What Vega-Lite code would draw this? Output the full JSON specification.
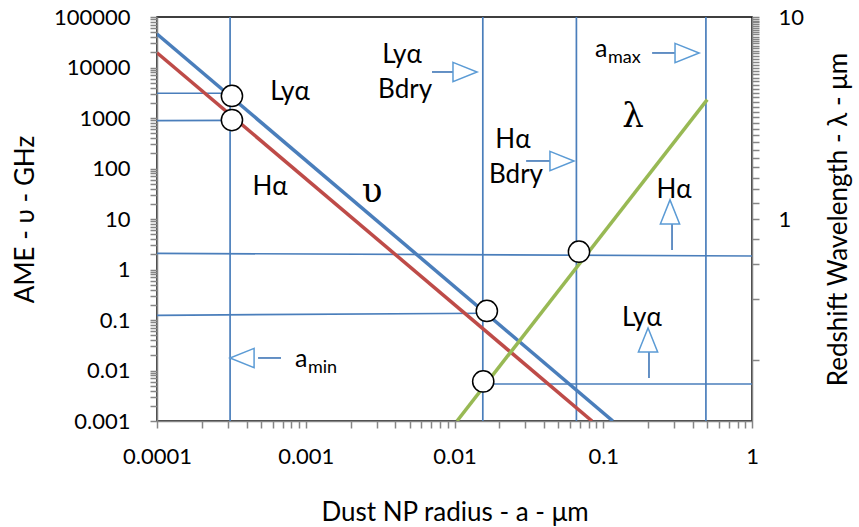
{
  "$schema": "https://vega.github.io/schema/vega-lite/v6.json",
  "width": 595,
  "height": 404,
  "autosize": {"type": "none"},
  "padding": {"left": 157, "top": 17, "right": 107, "bottom": 106},
  "background": "white",
  "config": {
    "font": "Lato, Open Sans, sans-serif",
    "view": {"stroke": "black", "strokeWidth": 1.5},
    "axis": {
      "grid": false,
      "domainColor": "#868686",
      "domainWidth": 1.5,
      "tickColor": "#868686",
      "tickWidth": 1.5,
      "tickSize": 7,
      "labelFontSize": 22,
      "labelColor": "black",
      "titleFontSize": 26,
      "titleFontWeight": "normal",
      "titleColor": "black"
    }
  },
  "datasets": {
    "ame": [
      {"series": "Lyα", "a": 0.0001, "v": 46000},
      {"series": "Lyα", "a": 0.116, "v": 0.001},
      {"series": "Hα", "a": 0.0001, "v": 19600},
      {"series": "Hα", "a": 0.084, "v": 0.001}
    ],
    "refs": [
      {"id": "v1", "a": 0.00031, "v": 0.001}, {"id": "v1", "a": 0.00031, "v": 100000},
      {"id": "v2", "a": 0.0155, "v": 0.001}, {"id": "v2", "a": 0.0155, "v": 100000},
      {"id": "v3", "a": 0.066, "v": 0.001}, {"id": "v3", "a": 0.066, "v": 100000},
      {"id": "v4", "a": 0.49, "v": 0.001}, {"id": "v4", "a": 0.49, "v": 100000},
      {"id": "h1", "a": 0.0001, "v": 3090}, {"id": "h1", "a": 0.000319, "v": 3090},
      {"id": "h2", "a": 0.0001, "v": 890}, {"id": "h2", "a": 0.000319, "v": 900},
      {"id": "h3", "a": 0.0001, "v": 2.09}, {"id": "h3", "a": 1, "v": 1.85},
      {"id": "h4", "a": 0.0001, "v": 0.124}, {"id": "h4", "a": 0.0165, "v": 0.136},
      {"id": "h5", "a": 0.0156, "v": 0.0054}, {"id": "h5", "a": 1, "v": 0.0054}
    ],
    "shafts": [
      {"a1": 0.00706, "a2": 0.00977, "v1": 8150, "v2": 8150},
      {"a1": 0.0303, "a2": 0.0439, "v1": 141, "v2": 141},
      {"a1": 0.213, "a2": 0.303, "v1": 19400, "v2": 19400},
      {"a1": 0.000478, "a2": 0.000682, "v1": 0.0177, "v2": 0.0177},
      {"a1": 0.29, "a2": 0.29, "v1": 7.96, "v2": 2.43},
      {"a1": 0.203, "a2": 0.203, "v1": 0.0232, "v2": 0.0071}
    ],
    "heads": [
      {"dir": "right", "a": 0.01177, "v": 8150},
      {"dir": "right", "a": 0.0528, "v": 141},
      {"dir": "right", "a": 0.366, "v": 19400},
      {"dir": "left", "a": 0.000373, "v": 0.0177},
      {"dir": "up", "a": 0.281, "v": 13.8},
      {"dir": "up", "a": 0.2, "v": 0.0402}
    ],
    "dots": [
      {"a": 0.000319, "v": 2730},
      {"a": 0.000319, "v": 910},
      {"a": 0.0165, "v": 0.151}
    ],
    "labels": [
      {"t": "Lyα", "a": 0.000784, "v": 2270},
      {"t": "Hα", "a": 0.000575, "v": 29.9},
      {"t": "Lyα", "a": 0.00444, "v": 12300},
      {"t": "Bdry", "a": 0.00465, "v": 2490},
      {"t": "Hα", "a": 0.0247, "v": 255},
      {"t": "Bdry", "a": 0.0259, "v": 51.6},
      {"t": "Hα", "a": 0.299, "v": 26},
      {"t": "Lyα", "a": 0.182, "v": 0.076}
    ],
    "greek": [
      {"t": "υ", "a": 0.00279, "v": 21.7},
      {"t": "λ", "a": 0.1585, "v": 664}
    ],
    "alabels": [
      {"t": "a", "a": 0.088, "v": 16100},
      {"t": "a", "a": 0.000847, "v": 0.0117}
    ],
    "subs": [
      {"t": "max", "a": 0.1077, "v": 12300},
      {"t": "min", "a": 0.001035, "v": 0.0089}
    ],
    "lam": [
      {"a": 0.0104, "lam": 0.1},
      {"a": 0.5, "lam": 3.9}
    ],
    "lamdots": [
      {"a": 0.0687, "lam": 0.689},
      {"a": 0.0156, "lam": 0.157}
    ]
  },
  "layer": [
    {
      "layer": [
        {
          "data": {"name": "refs"},
          "mark": {"type": "line", "color": "#4A7EBB", "strokeWidth": 1.7, "clip": true},
          "encoding": {
            "x": {"field": "a", "type": "quantitative", "scale": {"type": "log", "domain": [0.0001, 1]},
              "axis": {"title": "Dust NP radius  - a - μm", "tickCount": 60, "labelFlush": false, "labelOverlap": false, "labelPadding": 18, "titlePadding": 32,
                "labelExpr": "abs(log(datum.value)/LN10 - round(log(datum.value)/LN10)) < 0.001 ? '' + datum.value : ''"}},
            "y": {"field": "v", "type": "quantitative", "scale": {"type": "log", "domain": [0.001, 100000]},
              "axis": {"orient": "left", "title": "AME - υ - GHz", "tickCount": 60, "labelOverlap": false, "labelPadding": 20, "titlePadding": 15,
                "labelExpr": "abs(log(datum.value)/LN10 - round(log(datum.value)/LN10)) < 0.001 ? '' + datum.value : ''"}},
            "detail": {"field": "id"}
          }
        },
        {
          "data": {"name": "ame"},
          "mark": {"type": "line", "strokeWidth": 3.5, "clip": true},
          "encoding": {
            "x": {"field": "a", "type": "quantitative", "scale": {"type": "log", "domain": [0.0001, 1]}},
            "y": {"field": "v", "type": "quantitative", "scale": {"type": "log", "domain": [0.001, 100000]}},
            "color": {"field": "series", "type": "nominal", "scale": {"domain": ["Lyα", "Hα"], "range": ["#4A7EBB", "#BE4B48"]}, "legend": null}
          }
        },
        {
          "data": {"name": "shafts"},
          "mark": {"type": "rule", "color": "#4A7EBB", "strokeWidth": 1.7},
          "encoding": {
            "x": {"field": "a1", "type": "quantitative", "scale": {"type": "log", "domain": [0.0001, 1]}},
            "x2": {"field": "a2"},
            "y": {"field": "v1", "type": "quantitative", "scale": {"type": "log", "domain": [0.001, 100000]}},
            "y2": {"field": "v2"}
          }
        },
        {
          "data": {"name": "heads"},
          "mark": {"type": "point", "filled": false, "fill": "white", "fillOpacity": 1, "stroke": "#5B9BD5", "strokeWidth": 1.5, "size": 580, "opacity": 1},
          "encoding": {
            "x": {"field": "a", "type": "quantitative", "scale": {"type": "log", "domain": [0.0001, 1]}},
            "y": {"field": "v", "type": "quantitative", "scale": {"type": "log", "domain": [0.001, 100000]}},
            "shape": {"field": "dir", "type": "nominal", "scale": {"domain": ["right", "left", "up"], "range": ["M-1,-0.8L1,0L-1,0.8Z", "M1,-0.8L-1,0L1,0.8Z", "M-0.8,1L0,-1L0.8,1Z"]}, "legend": null}
          }
        },
        {
          "data": {"name": "dots"},
          "mark": {"type": "point", "filled": false, "fill": "white", "fillOpacity": 1, "stroke": "black", "strokeWidth": 1.5, "size": 450, "opacity": 1},
          "encoding": {
            "x": {"field": "a", "type": "quantitative", "scale": {"type": "log", "domain": [0.0001, 1]}},
            "y": {"field": "v", "type": "quantitative", "scale": {"type": "log", "domain": [0.001, 100000]}}
          }
        },
        {
          "data": {"name": "labels"},
          "mark": {"type": "text", "fontSize": 26, "align": "center", "baseline": "alphabetic", "color": "black"},
          "encoding": {
            "x": {"field": "a", "type": "quantitative", "scale": {"type": "log", "domain": [0.0001, 1]}},
            "y": {"field": "v", "type": "quantitative", "scale": {"type": "log", "domain": [0.001, 100000]}},
            "text": {"field": "t"}
          }
        },
        {
          "data": {"name": "greek"},
          "mark": {"type": "text", "fontSize": 34, "align": "center", "baseline": "alphabetic", "color": "black", "font": "DejaVu Serif"},
          "encoding": {
            "x": {"field": "a", "type": "quantitative", "scale": {"type": "log", "domain": [0.0001, 1]}},
            "y": {"field": "v", "type": "quantitative", "scale": {"type": "log", "domain": [0.001, 100000]}},
            "text": {"field": "t"}
          }
        },
        {
          "data": {"name": "alabels"},
          "mark": {"type": "text", "fontSize": 25, "align": "left", "baseline": "alphabetic", "color": "black"},
          "encoding": {
            "x": {"field": "a", "type": "quantitative", "scale": {"type": "log", "domain": [0.0001, 1]}},
            "y": {"field": "v", "type": "quantitative", "scale": {"type": "log", "domain": [0.001, 100000]}},
            "text": {"field": "t"}
          }
        },
        {
          "data": {"name": "subs"},
          "mark": {"type": "text", "fontSize": 18, "align": "left", "baseline": "alphabetic", "color": "black"},
          "encoding": {
            "x": {"field": "a", "type": "quantitative", "scale": {"type": "log", "domain": [0.0001, 1]}},
            "y": {"field": "v", "type": "quantitative", "scale": {"type": "log", "domain": [0.001, 100000]}},
            "text": {"field": "t"}
          }
        }
      ]
    },
    {
      "layer": [
        {
          "data": {"name": "lam"},
          "mark": {"type": "line", "color": "#98B954", "strokeWidth": 3.5, "clip": true},
          "encoding": {
            "x": {"field": "a", "type": "quantitative", "scale": {"type": "log", "domain": [0.0001, 1]}},
            "y": {"field": "lam", "type": "quantitative", "scale": {"type": "log", "domain": [0.1, 10]},
              "axis": {"orient": "right", "title": "Redshift Wavelength - λ - μm", "titleAngle": 270, "titleBaseline": "top", "tickCount": 60, "labelOverlap": false, "labelPadding": 19, "titlePadding": 22,
                "labelExpr": "abs(log(datum.value)/LN10 - round(log(datum.value)/LN10)) < 0.001 ? '' + datum.value : ''"}}
          }
        },
        {
          "data": {"name": "lamdots"},
          "mark": {"type": "point", "filled": false, "fill": "white", "fillOpacity": 1, "stroke": "black", "strokeWidth": 1.5, "size": 450, "opacity": 1},
          "encoding": {
            "x": {"field": "a", "type": "quantitative", "scale": {"type": "log", "domain": [0.0001, 1]}},
            "y": {"field": "lam", "type": "quantitative", "scale": {"type": "log", "domain": [0.1, 10]}}
          }
        }
      ]
    }
  ],
  "resolve": {"scale": {"y": "independent"}}
}
